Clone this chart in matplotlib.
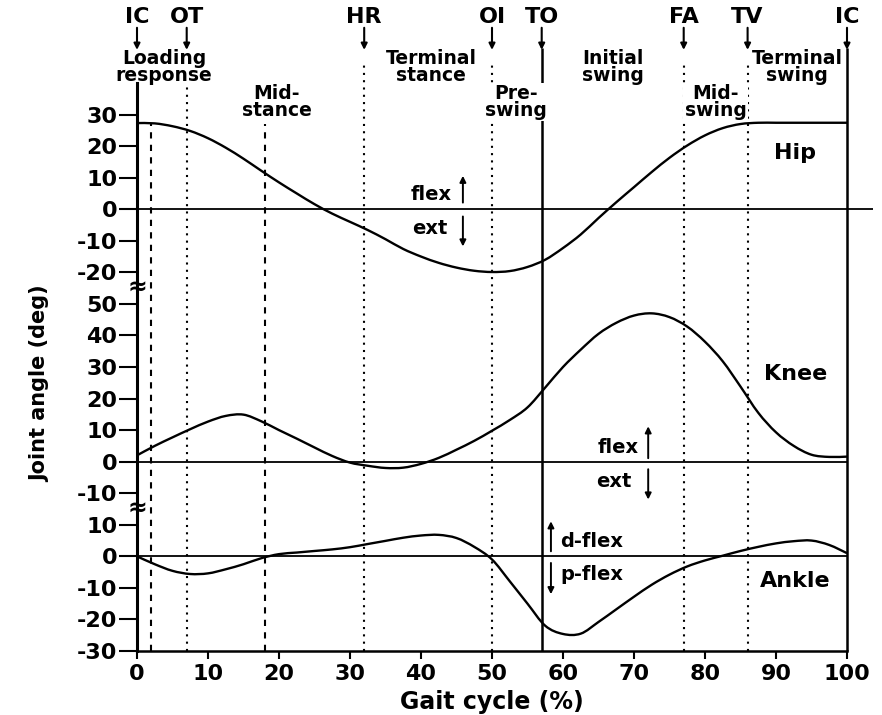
import numpy as np
import matplotlib
matplotlib.use('Agg')
import matplotlib.pyplot as plt
from matplotlib.path import Path
from matplotlib.patches import PathPatch

# Gait cycle samples (%)
gait_pct = [0, 2.5, 5, 7.5, 10, 12.5, 15, 17.5, 20, 22.5, 25, 27.5, 30, 32.5,
            35, 37.5, 40, 42.5, 45, 47.5, 50, 52.5, 55, 57.5, 60, 62.5, 65,
            67.5, 70, 72.5, 75, 77.5, 80, 82.5, 85, 87.5, 90, 92.5, 95, 97.5, 100]

# Joint angles (deg)
hip = [27.3, 27.2, 26.3, 24.8, 22.5, 19.5, 16.0, 12.2, 8.5, 5.0, 1.6, -1.4,
       -4.0, -6.6, -9.5, -12.6, -15.0, -17.0, -18.5, -19.5, -19.9, -19.6,
       -18.3, -16.0, -12.3, -8.0, -2.8, 2.2, 7.0, 11.8, 16.3, 20.2, 23.4,
       25.7, 27.0, 27.4, 27.4, 27.4, 27.4, 27.4, 27.4]
knee = [2.0, 5.0, 7.7, 10.3, 12.7, 14.5, 14.9, 12.8, 10.0, 7.3, 4.5, 1.8,
        -0.3, -1.3, -2.0, -1.9, -0.7, 1.2, 3.8, 6.6, 9.8, 13.2, 17.2, 23.5,
        30.0, 35.5, 40.5, 44.0, 46.3, 47.0, 45.8, 42.8, 38.0, 31.8, 23.8,
        15.5, 9.3, 5.0, 2.2, 1.5, 1.6]
ankle = [0.0, -2.5, -4.6, -5.6, -5.4, -4.1, -2.5, -0.6, 0.7, 1.2, 1.7, 2.2,
         2.9, 3.9, 4.9, 5.9, 6.6, 6.8, 5.8, 3.0, -1.0, -7.9, -15.0, -22.0,
         -24.6, -24.5, -20.8, -16.8, -12.8, -9.0, -5.8, -3.2, -1.3, 0.2, 1.7,
         3.0, 4.1, 4.8, 5.0, 3.6, 1.0]

# Gait events and phases
event_names = ['IC', 'OT', 'HR', 'OI', 'TO', 'FA', 'TV', 'IC']
event_pct = [0, 7, 32, 50, 57, 77, 86, 100]
dashed_pct = [2, 18]
phase_names = ['Loading\nresponse', 'Mid-\nstance', 'Terminal\nstance', 'Pre-\nswing',
               'Initial\nswing', 'Mid-\nswing', 'Terminal\nswing']
phase_pct = [3.8, 19.7, 41.4, 53.4, 67, 81.5, 93]

hip_ticks = [30, 20, 10, 0, -10, -20]
knee_ticks = [50, 40, 30, 20, 10, 0, -10]
ankle_ticks = [10, 0, -10, -20, -30]

# vertical offsets so the three panels share one y axis
HIP_OFF, KNEE_OFF, ANKLE_OFF = 110, 30, 0


def smooth_path(xs, ys):
    # Catmull-Rom curve through every sample, as cubic Bezier segments
    p = np.column_stack([xs, ys]).astype(float)
    ext = np.vstack([p[0], p, p[-1]])
    verts, codes = [p[0]], [Path.MOVETO]
    for i in range(len(p) - 1):
        p0, p1, p2, p3 = ext[i], ext[i + 1], ext[i + 2], ext[i + 3]
        verts += [p1 + (p2 - p0) / 6, p2 - (p3 - p1) / 6, p2]
        codes += [Path.CURVE4] * 3
    return Path(verts, codes)


plt.rcParams['font.family'] = 'DejaVu Sans'
plt.rcParams['font.weight'] = 'bold'
plt.rcParams['axes.labelweight'] = 'bold'

fig = plt.figure(figsize=(8.82, 7.15), dpi=100)
ax = fig.add_axes([137 / 882, 1 - 651 / 715, 710 / 882, 568 / 715])
ax.set_xlim(0, 100)
ax.set_ylim(-30, 150)

for vals, off in [(hip, HIP_OFF), (knee, KNEE_OFF), (ankle, ANKLE_OFF)]:
    ax.add_patch(PathPatch(smooth_path(gait_pct, np.array(vals) + off),
                           facecolor='none', edgecolor='k', lw=1.7,
                           zorder=4, clip_on=False))

# zero lines
ax.hlines(HIP_OFF, 0, 103.7, color='k', lw=1.3, clip_on=False)
ax.hlines([KNEE_OFF, ANKLE_OFF], 0, 100, color='k', lw=1.3)

# event lines
for name, p in zip(event_names, event_pct):
    if p in (57, 100):
        ax.vlines(p, -30, 161, color='k', lw=1.8, clip_on=False)
    elif p != 0:
        top = 150 if p < 10 else 156
        ax.vlines(p, -30, top, color='k', lw=1.5, linestyles=(0, (1, 2.5)),
                  clip_on=False)
    ax.annotate('', xy=(p, 160.5), xytext=(p, 167.5),
                arrowprops=dict(arrowstyle='-|>', color='k', lw=1.5,
                                mutation_scale=9, shrinkA=0, shrinkB=0),
                annotation_clip=False)
    ax.text(p, 171, name, ha='center', va='center', fontsize=16)

for p in dashed_pct:
    ax.vlines(p, -30, 137, color='k', lw=1.5, linestyles=(0, (3, 3)))

# phase names
for i, (name, p) in enumerate(zip(phase_names, phase_pct)):
    if i % 2 == 0:
        ax.text(p, 155, name, ha='center', va='center', fontsize=13.5,
                linespacing=0.85, zorder=6)
    else:
        ax.text(p, 144, name, ha='center', va='center', fontsize=13.5,
                linespacing=0.85, zorder=6,
                bbox=dict(facecolor='white', edgecolor='none', pad=1))

# joint names
ax.text(92.7, 127.8, 'Hip', ha='center', va='center', fontsize=16)
ax.text(92.7, 57.7, 'Knee', ha='center', va='center', fontsize=16)
ax.text(92.7, -7.9, 'Ankle', ha='center', va='center', fontsize=16)

# direction indicators
arrow = dict(arrowstyle='-|>', color='k', lw=1.4, mutation_scale=9,
             shrinkA=0, shrinkB=0)
ax.annotate('', xy=(45.9, 120.6), xytext=(45.9, 112.1), arrowprops=arrow)
ax.annotate('', xy=(45.9, 98.2), xytext=(45.9, 107.7), arrowprops=arrow)
ax.text(44.4, 114.7, 'flex', ha='right', va='center', fontsize=14)
ax.text(43.8, 103.9, 'ext', ha='right', va='center', fontsize=14)

ax.annotate('', xy=(72.0, 41.2), xytext=(72.0, 31.1), arrowprops=arrow)
ax.annotate('', xy=(72.0, 18.0), xytext=(72.0, 27.6), arrowprops=arrow)
ax.text(70.6, 34.6, 'flex', ha='right', va='center', fontsize=14)
ax.text(69.7, 23.8, 'ext', ha='right', va='center', fontsize=14)

ax.annotate('', xy=(58.3, 11.1), xytext=(58.3, 1.6), arrowprops=arrow)
ax.annotate('', xy=(58.3, -12.0), xytext=(58.3, -2.1), arrowprops=arrow)
ax.text(59.6, 4.75, 'd-flex', ha='left', va='center', fontsize=14)
ax.text(59.6, -5.6, 'p-flex', ha='left', va='center', fontsize=14)

# axis breaks
for yb in (85.5, 15.3):
    ax.text(0, yb, '\u2248', ha='center', va='center', fontsize=17, zorder=7)

# ticks
yt, yl = [], []
for ticks, off in [(hip_ticks, HIP_OFF), (knee_ticks, KNEE_OFF), (ankle_ticks, ANKLE_OFF)]:
    yt += [t + off for t in ticks]
    yl += [str(t) for t in ticks]
ax.set_yticks(yt)
ax.set_yticklabels(yl)
ax.set_xticks(range(0, 101, 10))
ax.tick_params(axis='y', length=13, width=1.5, pad=1, labelsize=16)
ax.tick_params(axis='x', length=6, width=1.5, pad=3, labelsize=16)

for s in ('top', 'right'):
    ax.spines[s].set_visible(False)
ax.spines['left'].set_linewidth(2.2)
ax.spines['bottom'].set_linewidth(1.8)

ax.set_ylabel('Joint angle (deg)', fontsize=15)
ax.yaxis.set_label_coords(-0.1225, 0.471)
ax.set_xlabel('Gait cycle (%)', fontsize=17)
ax.xaxis.set_label_coords(0.5, -0.068)

fig.savefig('out.png', dpi=100)
